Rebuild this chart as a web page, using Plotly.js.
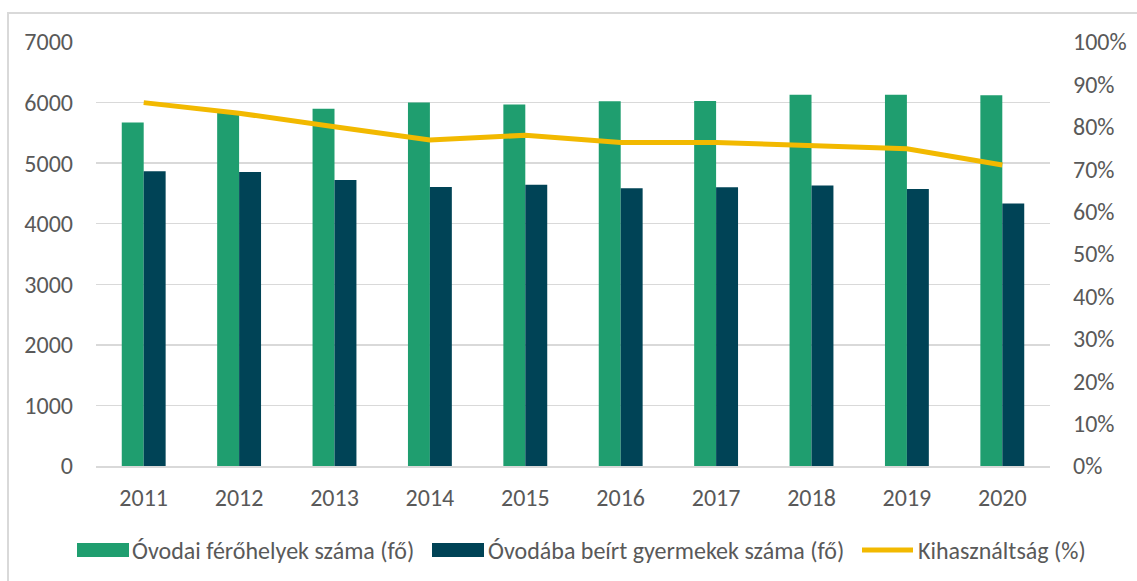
<!DOCTYPE html>
<html>
<head>
<meta charset="utf-8">
<script src="https://cdn.plot.ly/plotly-3.0.1.min.js"></script>
<style>
  html, body { margin:0; padding:0; background:#fff; overflow:hidden; }
  #wrap { position:relative; width:1137px; height:581px; }
  #chart { position:absolute; left:0; top:0; width:1137px; height:581px; }
  #frame { position:absolute; left:7px; top:12px; width:1300px; height:800px; border:2px solid #d9d9d9; pointer-events:none; }
</style>
</head>
<body>
<div id="wrap">
  <div id="frame"></div>
  <div id="chart"></div>
</div>
<script>
const years = ['2011','2012','2013','2014','2015','2016','2017','2018','2019','2020'];
const ferohelyek = [5670, 5830, 5900, 6000, 5970, 6020, 6025, 6130, 6130, 6120];
const beirt = [4865, 4855, 4720, 4605, 4645, 4585, 4600, 4630, 4575, 4335];
const kihasznaltsag = [0.857, 0.832, 0.800, 0.769, 0.780, 0.763, 0.763, 0.756, 0.748, 0.710];
const seriesNames = ['Óvodai férőhelyek száma (fő)', 'Óvodába beírt gyermekek száma (fő)', 'Kihasználtság (%)'];

const GREEN = '#1f9e6f', DARK = '#004356', YELLOW = '#f2b900';
const FONT = '"Carlito", "Open Sans", sans-serif';
const TXT = '#595959';
const FS = 24;

// plot area in page pixels
const PL = 96, PR = 1050, PT = 42, PB = 466;
const px = x => (x - PL) / (PR - PL);
const py = y => (PB - y) / (PB - PT);

const traces = [
  {type:'bar', x:years, y:ferohelyek, name:seriesNames[0], marker:{color:GREEN}},
  {type:'bar', x:years, y:beirt, name:seriesNames[1], marker:{color:DARK}},
  {type:'scatter', mode:'lines', x:years, y:kihasznaltsag, name:seriesNames[2], yaxis:'y2',
   line:{color:YELLOW, width:5}}
];

const legendY = 550;
const shapes = [
  {type:'rect', xref:'paper', yref:'paper', x0:px(77), x1:px(129), y0:py(557), y1:py(543), fillcolor:GREEN, line:{width:0}},
  {type:'rect', xref:'paper', yref:'paper', x0:px(432), x1:px(484), y0:py(557), y1:py(543), fillcolor:DARK, line:{width:0}},
  {type:'line', xref:'paper', yref:'paper', x0:px(862), x1:px(913), y0:py(legendY), y1:py(legendY), line:{color:YELLOW, width:5}}
];
const legendX = [130, 486, 916];
const annotations = seriesNames.map((n, i) => ({
  xref:'paper', yref:'paper', x:px(legendX[i]), y:py(legendY), xanchor:'left', yanchor:'middle',
  text:n, showarrow:false, font:{family:FONT, size:FS, color:TXT}
}));

const layout = {
  width:1137, height:581,
  margin:{l:PL, r:1137-PR, t:PT, b:581-PB, pad:0},
  paper_bgcolor:'rgba(0,0,0,0)', plot_bgcolor:'rgba(0,0,0,0)',
  font:{family:FONT, size:FS, color:TXT},
  barmode:'group', bargap:0.54, bargroupgap:0,
  showlegend:false,
  xaxis:{type:'category', showgrid:false, showline:true, linecolor:'#d9d9d9', linewidth:1.5,
         ticks:'', ticklabelstandoff:10, tickfont:{family:FONT, size:FS, color:TXT}, fixedrange:true},
  yaxis:{range:[0,7000], dtick:1000, showgrid:true, gridcolor:'#d9d9d9', gridwidth:1.5,
         zeroline:false, showline:false, ticks:'', ticklabelstandoff:22,
         tickfont:{family:FONT, size:FS, color:TXT}},
  yaxis2:{range:[0,1], dtick:0.1, tickformat:'.0%', overlaying:'y', side:'right',
          showgrid:false, zeroline:false, showline:false, ticks:'', ticklabelstandoff:22,
          tickfont:{family:FONT, size:FS, color:TXT}},
  shapes:shapes,
  annotations:annotations
};

Plotly.newPlot('chart', traces, layout, {displayModeBar:false, staticPlot:true});
</script>
</body>
</html>
